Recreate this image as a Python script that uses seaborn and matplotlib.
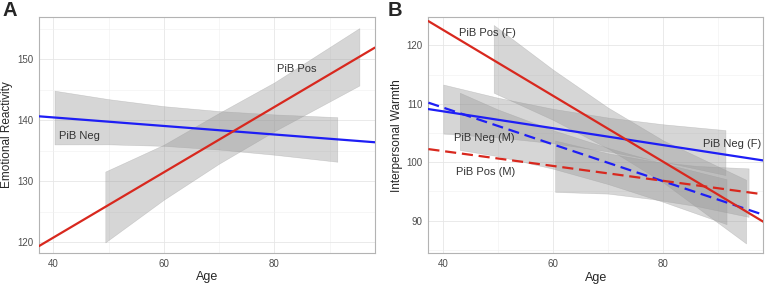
import numpy as np
import pandas as pd
import matplotlib
matplotlib.use("Agg")
import matplotlib.pyplot as plt
import seaborn as sns

# bornes d'âge des droites ajustées (étendues sur tout l'axe)
AGE_LINE = [37.4, 98.2]

# Panel A - Emotional Reactivity
a_neg_line = [140.65, 136.4]
a_pos_line = [119.4, 151.9]

a_neg_age = [40.2, 50, 60, 70, 80, 91.4]
a_neg_low = [136.05, 136.06, 135.81, 135.21, 134.36, 133.21]
a_neg_high = [144.85, 143.46, 142.31, 141.51, 140.96, 140.51]

a_pos_age = [49.4, 60, 70, 80, 95.4]
a_pos_low = [120.0, 127.0, 132.9, 138.2, 145.7]
a_pos_high = [131.6, 136.0, 141.2, 146.2, 155.1]

# Panel B - Interpersonal Warmth
b_posf_line = [124.16, 89.8]
b_negf_line = [109.1, 100.3]
b_negm_line = [110.2, 91.0]
b_posm_line = [102.25, 94.5]

b_negf_age = [40.1, 50, 60, 70, 80, 91.3]
b_negf_low = [104.9, 104.25, 103.25, 101.85, 100.1, 97.8]
b_negf_high = [113.3, 111.05, 109.15, 107.65, 106.5, 105.5]

b_negm_age = [43.1, 50, 60, 70, 80, 91.5]
b_negm_low = [102.1, 101.04, 98.9, 96.26, 93.22, 89.4]
b_negm_high = [111.9, 109.04, 105.5, 102.46, 99.82, 97.1]

b_posf_age = [49.25, 60, 70, 80, 95.05]
b_posf_low = [111.9, 107.26, 102.35, 96.54, 86.1]
b_posf_high = [123.5, 115.86, 109.35, 103.74, 97.0]

b_posm_age = [60.4, 70, 78, 86, 95.5]
b_posm_low = [94.92, 94.63, 93.7, 92.5, 90.65]
b_posm_high = [103.72, 101.53, 100.2, 99.37, 98.95]

RED = "#D8281E"
BLUE = "#1E1EF5"
DASH = (0, (5, 2.6))

sns.set_theme(style="white")
plt.rcParams['font.family'] = ['Liberation Sans', 'DejaVu Sans']

fig = plt.figure(figsize=(7.65, 2.85), dpi=100)
axA = fig.add_axes([0.051, 0.112, 0.439, 0.828])
axB = fig.add_axes([0.560, 0.111, 0.438, 0.828])


def ruban(ax, age, low, high):
    ax.fill_between(age, low, high, facecolor="#999999", alpha=0.4,
                    edgecolor="#999999", linewidth=0.4, zorder=2)


def droite(ax, vals, color, ls="-"):
    df = pd.DataFrame({"age": AGE_LINE, "val": vals})
    sns.lineplot(data=df, x="age", y="val", ax=ax, color=color,
                 linewidth=1.6, linestyle=ls, zorder=3)


def habillage(ax, ylim, yticks, yminor, ylabel):
    ax.set_xlim(AGE_LINE)
    ax.set_ylim(ylim)
    ax.set_xticks([40, 60, 80])
    ax.set_xticks([50, 70, 90], minor=True)
    ax.set_yticks(yticks)
    ax.set_yticks(yminor, minor=True)
    ax.grid(which="major", color="#E6E6E6", linewidth=0.6, zorder=0)
    ax.grid(which="minor", color="#F0F0F0", linewidth=0.4, zorder=0)
    ax.set_axisbelow(True)
    for s in ax.spines.values():
        s.set_color("#B3B3B3")
        s.set_linewidth(0.8)
    ax.tick_params(which="major", length=2.5, width=0.6, color="#B3B3B3",
                   labelsize=7, labelcolor="#4D4D4D", pad=1.5)
    ax.tick_params(which="minor", length=0)
    ax.set_xlabel("Age", fontsize=9, labelpad=2)
    ax.set_ylabel(ylabel, fontsize=8.5, labelpad=3)


# A
ruban(axA, a_neg_age, a_neg_low, a_neg_high)
ruban(axA, a_pos_age, a_pos_low, a_pos_high)
droite(axA, a_neg_line, BLUE)
droite(axA, a_pos_line, RED)
habillage(axA, (118.25, 156.9), [120, 130, 140, 150], [125, 135, 145, 155],
          "Emotional Reactivity")
axA.text(41, 137.5, "PiB Neg", fontsize=8, color="#333333", va="center")
axA.text(80.5, 148.4, "PiB Pos", fontsize=8, color="#333333", va="center")

# B
ruban(axB, b_negf_age, b_negf_low, b_negf_high)
ruban(axB, b_negm_age, b_negm_low, b_negm_high)
ruban(axB, b_posf_age, b_posf_low, b_posf_high)
ruban(axB, b_posm_age, b_posm_low, b_posm_high)
droite(axB, b_negf_line, BLUE)
droite(axB, b_negm_line, BLUE, DASH)
droite(axB, b_posf_line, RED)
droite(axB, b_posm_line, RED, DASH)
habillage(axB, (84.4, 124.8), [90, 100, 110, 120], [85, 95, 105, 115],
          "Interpersonal Warmth")
axB.text(43.0, 122.2, "PiB Pos (F)", fontsize=8, color="#333333", va="center")
axB.text(42.1, 104.2, "PiB Neg (M)", fontsize=8, color="#333333", va="center")
axB.text(42.4, 98.3, "PiB Pos (M)", fontsize=8, color="#333333", va="center")
axB.text(87.3, 103.2, "PiB Neg (F)", fontsize=8, color="#333333", va="center")

fig.text(0.003, 0.998, "A", fontsize=14.5, fontweight="bold", va="top")
fig.text(0.507, 0.998, "B", fontsize=14.5, fontweight="bold", va="top")

fig.savefig("out.png", dpi=100)
